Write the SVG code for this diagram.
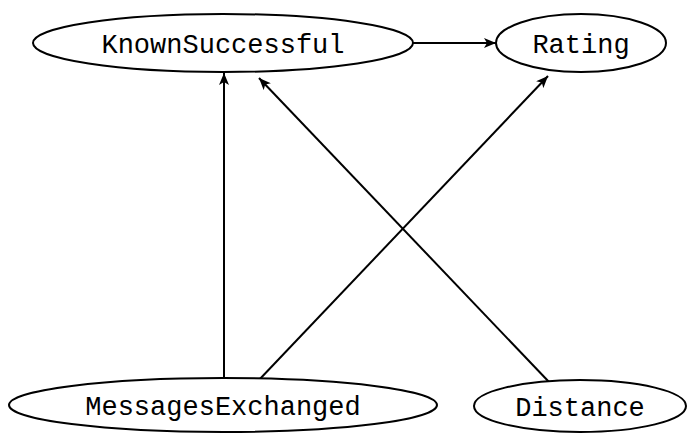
<svg xmlns="http://www.w3.org/2000/svg" width="688" height="433" viewBox="0 0 688 433">
<style>
.n ellipse{fill:#fff;stroke:#000;stroke-width:2}
.n text{font-family:"Liberation Mono","DejaVu Sans Mono",monospace;font-size:27px;text-anchor:middle;fill:#000}
.e line{stroke:#000;stroke-width:2}
</style>
<defs>
<marker id="a" viewBox="0 0 12 10" refX="12" refY="5" markerWidth="12" markerHeight="10" markerUnits="userSpaceOnUse" orient="auto">
<path d="M0,0 L12,5 L0,10 L3,5 Z" fill="#000"/>
</marker>
</defs>
<g class="e">
<line x1="413" y1="43" x2="496" y2="43" marker-end="url(#a)"/>
<line x1="224" y1="379" x2="224" y2="73" marker-end="url(#a)"/>
<line x1="258" y1="381" x2="548" y2="76" marker-end="url(#a)"/>
<line x1="550" y1="383" x2="259" y2="78" marker-end="url(#a)"/>
</g>
<g id="KnownSuccessful" class="n"><ellipse cx="223" cy="43" rx="190" ry="29"/><text x="223" y="53">KnownSuccessful</text></g>
<g id="Rating" class="n"><ellipse cx="581" cy="43" rx="85" ry="29"/><text x="581" y="53">Rating</text></g>
<g id="MessagesExchanged" class="n"><ellipse cx="223" cy="405" rx="214" ry="27"/><text x="223" y="415">MessagesExchanged</text></g>
<g id="Distance" class="n"><ellipse cx="580" cy="406" rx="106" ry="26"/><text x="580" y="416">Distance</text></g>
</svg>
